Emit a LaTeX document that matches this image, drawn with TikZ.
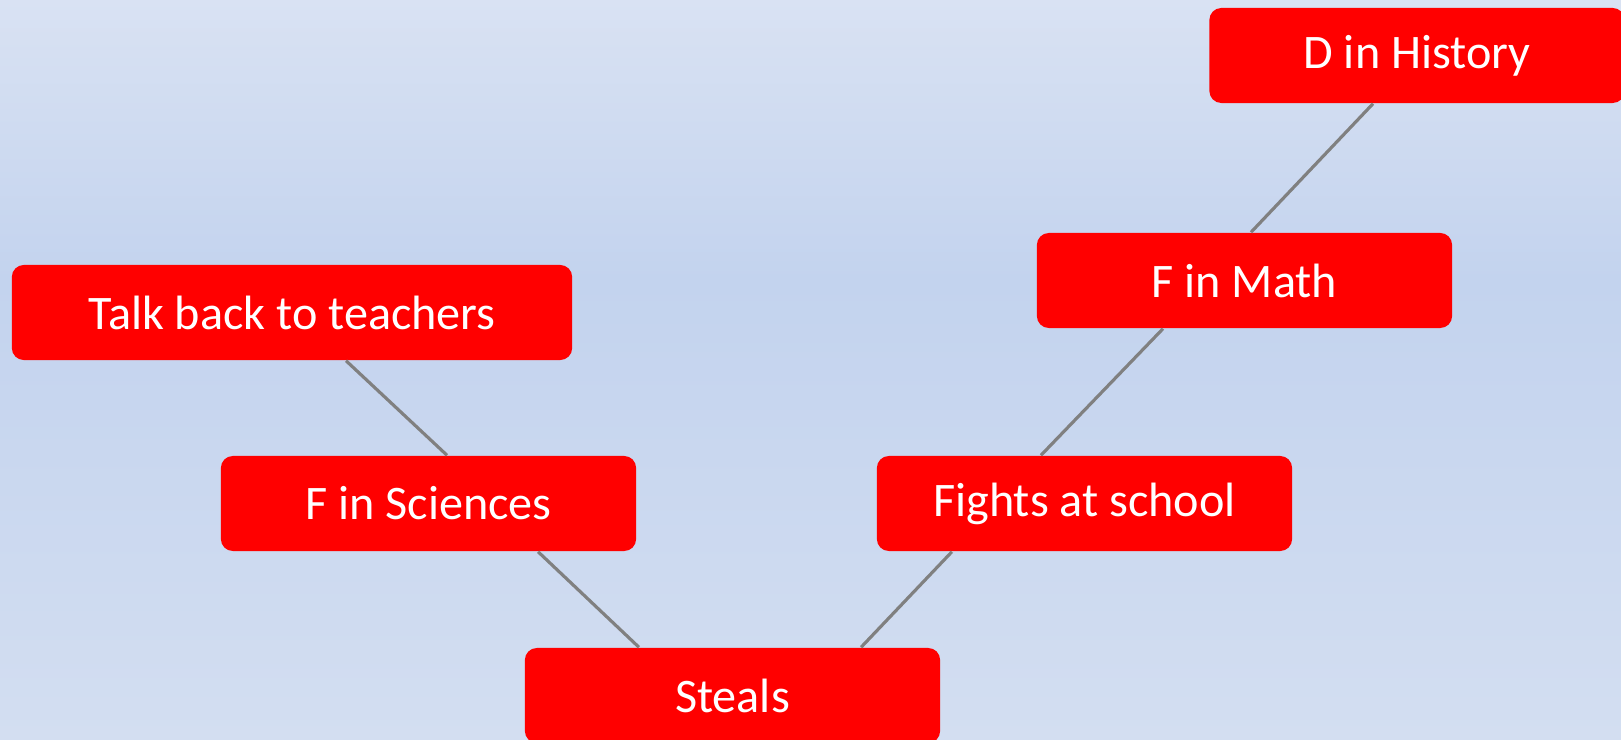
\documentclass[tikz,border=0pt]{standalone}
\usepackage{fontspec}
\setmainfont{Carlito}
\usepackage{tikz}

\definecolor{bgtop}{HTML}{D9E2F3}
\definecolor{bgmid}{HTML}{C3D3EE}
\definecolor{bgbot}{HTML}{D3DEF1}

\begin{document}
\begin{tikzpicture}[x=0.01cm,y=-0.01cm,
    box/.style={rectangle,rounded corners=0.12cm,fill=red,text=white,inner sep=0pt,
      minimum width=4.15cm,minimum height=0.95cm,font=\fontsize{13.7}{16}\selectfont},
    link/.style={draw=black!50,line width=0.9pt}]
        \useasboundingbox (0,0) rectangle (1621,740);
        \shade[top color=bgtop,bottom color=bgmid](0,0)rectangle(1621,280);
        \shade[top color=bgmid,bottom color=bgbot](0,280)rectangle(1621,740);
        \node[box,minimum width=5.6cm](talk)at(292,312.5){Talk back to teachers};
        \node[box](sci)at(428.5,503.5){F in Sciences};
        \node[box](steals)at(732.5,695.5){Steals};
        \node[box](fights)at(1084.5,503.5){Fights at school};
        \node[box](math)at(1244.5,280.5){F in Math};
        \node[box](hist)at(1417,55.5){D in History};
        \draw[link]([xshift=0.54cm]talk.south)--([xshift=0.185cm]sci.north);
        \draw[link]([xshift=1.095cm]sci.south)--([xshift=-0.935cm]steals.north);
        \draw[link]([xshift=1.285cm]steals.north)--([xshift=-1.325cm]fights.south);
        \draw[link]([xshift=-0.435cm]fights.north)--([xshift=-0.815cm]math.south);
        \draw[link]([xshift=0.065cm]math.north)--([xshift=-0.44cm]hist.south);
    \end{tikzpicture}
\end{document}
